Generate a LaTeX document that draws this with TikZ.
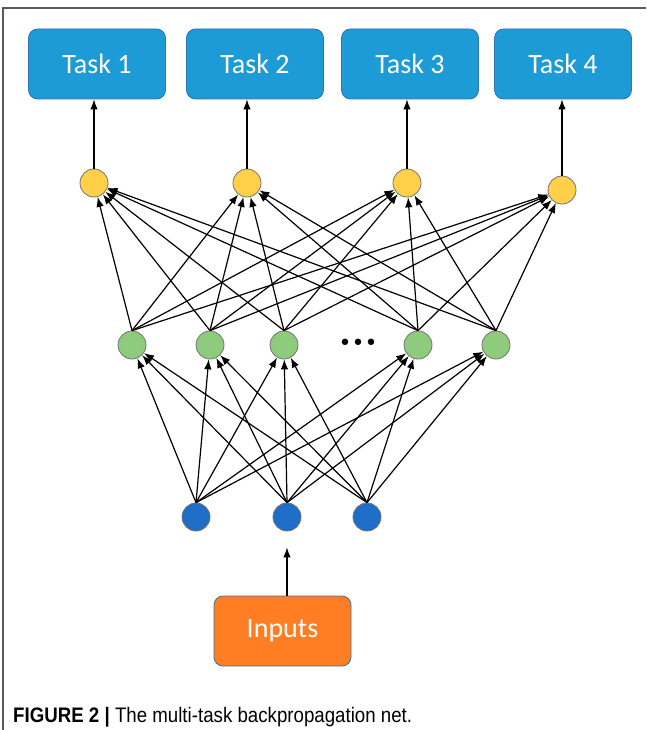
\documentclass[tikz,border=0pt]{standalone}
\usepackage{fontspec}
\usepackage{graphicx}
\usetikzlibrary{arrows.meta}
\newfontfamily\boxfont{Carlito}
\newfontfamily\capfont{Liberation Sans}
\newfontfamily\symfont{DejaVu Sans}
\definecolor{taskblue}{RGB}{29,155,214}
\definecolor{taskedge}{RGB}{46,117,182}
\definecolor{outyellow}{RGB}{255,208,72}
\definecolor{hidgreen}{RGB}{142,203,125}
\definecolor{inblue}{RGB}{30,110,200}
\definecolor{inorange}{RGB}{255,125,35}
\definecolor{inedge}{RGB}{65,113,156}
\definecolor{framegray}{RGB}{90,90,90}
\tikzset{
  taskbox/.style={draw=taskedge, fill=taskblue, line width=0.8pt, rounded corners=9pt,
    minimum width=137pt, minimum height=70pt, text=white,
    font=\boxfont\fontsize{28}{28}\selectfont},
  inbox/.style={taskbox, draw=inedge, fill=inorange},
  unit/.style={circle, draw=black!55, line width=0.8pt, minimum size=28pt, inner sep=0pt},
  outnode/.style={unit, fill=outyellow},
  hidnode/.style={unit, fill=hidgreen},
  innode/.style={unit, fill=inblue},
  arr/.style={-{Latex[length=10pt,width=7.5pt]}, line width=1.2pt},
}
\begin{document}
\begin{tikzpicture}[x=1pt,y=-1pt]
	\useasboundingbox (0,0) rectangle (646,730);
	\draw[framegray, line width=1.3pt] (646,8) -- (3,8) -- (3,730);
	% tasks and output units
	\foreach \i\x in {1/97,2/255,3/410,4/563}{
		\node[taskbox] (t\i) at (\x,64) {Task \i};
	}
	\foreach \i\x\y in {1/94/183,2/247/183,3/407/183,4/562/190}{
		\node[outnode] (y\i) at (\x,\y) {};
		\draw[arr] (y\i) -- (y\i |- t\i.south);
	}
	% hidden layer
	\foreach \i\x in {1/132,2/210,3/284,4/418,5/496}{
		\node[hidnode] (h\i) at (\x,345) {};
	}
	\node[font=\symfont\fontsize{22}{22}\selectfont, inner sep=0pt] (dots) at (358,345) {•••};
	% input layer
	\foreach \i\x in {1/196,2/287,3/367}{
		\node[innode] (b\i) at (\x,517) {};
	}
	\node[inbox] (in) at (282.5,631) {Inputs};
	\foreach \h in {1,...,5}{
		\foreach \o in {1,...,4}{
			\draw[arr] (h\h.north) -- (y\o);
		}
	}
	\foreach \b in {1,2,3}{
		\foreach \h in {1,...,5}{
			\draw[arr] (b\b.north) -- (h\h);
		}
	}
	\draw[arr, shorten >=16pt] (in.north -| b2) -- (b2.south);
	\node[anchor=base west, inner sep=0pt, font=\capfont\fontsize{21}{21}\selectfont] (cap) at (13,722)
		{\scalebox{0.89}[1]{\textbf{FIGURE 2 |} The multi-task backpropagation net.}};
\end{tikzpicture}
\end{document}
